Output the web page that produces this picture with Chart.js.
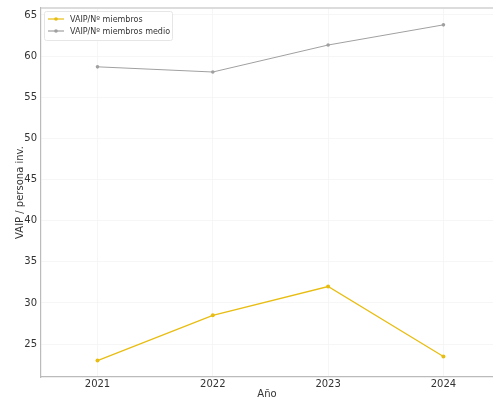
<!DOCTYPE html>
<html>
<head>
<meta charset="utf-8">
<script src="https://cdn.jsdelivr.net/npm/chart.js@4/dist/chart.umd.min.js"></script>
<style>
  html, body { margin: 0; padding: 0; background: #fff; }
  #wrap { width: 493px; height: 400px; position: relative; }
</style>
</head>
<body>
<div id="wrap"><canvas id="chart"></canvas></div>
<script>
// ---- data ----
const years = [2021, 2022, 2023, 2024];
const miembros = [23.0, 28.5, 32.0, 23.5];
const miembrosMedio = [58.7, 58.07, 61.35, 63.8];
const yTicks = [25, 30, 35, 40, 45, 50, 55, 60, 65];

const GOLD = '#e8bd12';
const GREY = '#a0a0a0';
const FONT = "'DejaVu Sans', sans-serif";

// legend box drawn inside the plot, upper left
const innerLegend = {
  id: 'innerLegend',
  afterDraw(chart) {
    const { ctx, chartArea } = chart;
    const x = chartArea.left + 3, y = chartArea.top + 3;
    const w = 128, h = 29;
    ctx.save();
    ctx.fillStyle = 'rgba(255,255,255,0.85)';
    ctx.strokeStyle = '#e6e6e6';
    ctx.lineWidth = 1;
    ctx.beginPath();
    ctx.roundRect(x + 0.5, y + 0.5, w, h, 2);
    ctx.fill();
    ctx.stroke();
    ctx.font = '8px ' + FONT;
    ctx.textBaseline = 'middle';
    chart.data.datasets.forEach((ds, i) => {
      const ly = y + 8 + i * 12;
      ctx.strokeStyle = ds.borderColor;
      ctx.lineWidth = 1.2;
      ctx.beginPath();
      ctx.moveTo(x + 4, ly);
      ctx.lineTo(x + 20, ly);
      ctx.stroke();
      ctx.fillStyle = ds.borderColor;
      ctx.beginPath();
      ctx.arc(x + 12, ly, 1.8, 0, Math.PI * 2);
      ctx.fill();
      ctx.fillStyle = '#333';
      ctx.fillText(ds.label, x + 26, ly + 0.5);
    });
    ctx.restore();
  }
};

new Chart(document.getElementById('chart'), {
  type: 'line',
  data: {
    datasets: [
      {
        label: 'VAIP/Nº miembros',
        data: years.map((yr, i) => ({ x: yr, y: miembros[i] })),
        borderColor: GOLD,
        backgroundColor: GOLD,
        borderWidth: 1.3,
        pointRadius: 2,
        pointBorderWidth: 0,
        tension: 0
      },
      {
        label: 'VAIP/Nº miembros medio',
        data: years.map((yr, i) => ({ x: yr, y: miembrosMedio[i] })),
        borderColor: GREY,
        backgroundColor: GREY,
        borderWidth: 1,
        pointRadius: 1.8,
        pointBorderWidth: 0,
        tension: 0
      }
    ]
  },
  options: {
    responsive: true,
    maintainAspectRatio: false,
    animation: false,
    layout: { autoPadding: false, padding: { left: 0, right: 0, top: 8, bottom: 0 } },
    plugins: { legend: { display: false }, tooltip: { enabled: false } },
    scales: {
      x: {
        type: 'linear',
        min: 2020.51,
        max: 2024.43,
        afterBuildTicks: axis => { axis.ticks = years.map(v => ({ value: v })); },
        afterFit: axis => { axis.height = 23; axis.paddingRight = 0; axis.paddingLeft = 0; },
        ticks: { color: '#333', font: { family: FONT, size: 10 }, padding: 1, maxRotation: 0, callback: v => String(v) },
        grid: { color: '#f4f4f4', lineWidth: 0.8, drawTicks: false },
        border: { color: '#bbbbbb', width: 1.2 },
        title: { display: true, text: 'Año', color: '#333', font: { family: FONT, size: 10 }, padding: { top: 0, bottom: 0 } }
      },
      y: {
        min: 21.0,
        max: 65.85,
        afterBuildTicks: axis => { axis.ticks = yTicks.map(v => ({ value: v })); },
        afterFit: axis => { axis.width = 41; axis.paddingTop = 0; axis.paddingBottom = 0; },
        ticks: { color: '#333', font: { family: FONT, size: 10 }, padding: 4 },
        grid: { color: '#f4f4f4', lineWidth: 0.8, drawTicks: false },
        border: { color: '#bbbbbb', width: 1.2 },
        title: { display: true, text: 'VAIP / persona inv.', color: '#333', font: { family: FONT, size: 10 }, padding: { top: 14, bottom: 0 } }
      }
    }
  },
  plugins: [innerLegend, {
    id: 'topBorder',
    afterDraw(chart) {
      const { ctx, chartArea } = chart;
      ctx.save();
      ctx.strokeStyle = '#d0d0d0';
      ctx.lineWidth = 1.5;
      ctx.beginPath();
      ctx.moveTo(chartArea.left, chartArea.top);
      ctx.lineTo(chartArea.right, chartArea.top);
      ctx.stroke();
      ctx.restore();
    }
  }]
});
</script>
</body>
</html>
